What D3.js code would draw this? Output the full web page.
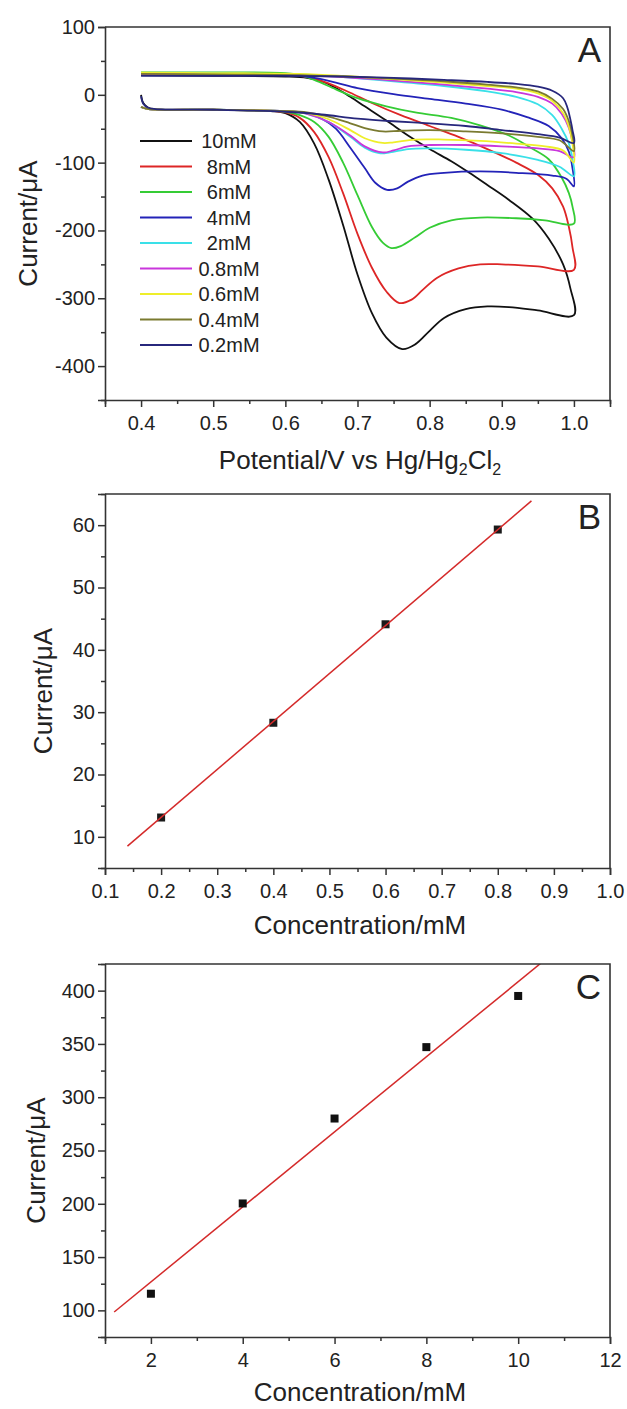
<!DOCTYPE html>
<html><head><meta charset="utf-8">
<script src="https://cdn.jsdelivr.net/npm/d3@7/dist/d3.min.js"></script>
<style>
body{margin:0;background:#fff}
text{font-family:"Liberation Sans",Arial,sans-serif;fill:#222}
</style>
</head><body>
<svg id="chart" width="627" height="1409"></svg>
<script>
// ---------------- DATA ----------------
const concLabels = ["10mM","8mM","6mM","4mM","2mM","0.8mM","0.6mM","0.4mM","0.2mM"];
const curveColors = ["#111111","#dd2626","#35cc35","#2323b8","#3ae0e8","#c936dc","#eeee2a","#7a7a30","#27277c"];

// Panel A: cyclic voltammograms, forward (lower) branch 0.4 -> 1.0 V, reverse (upper) branch 1.0 -> 0.4 V
const fwd10mM = [[0.40,0],[0.403,-12],[0.41,-19],[0.42,-21],[0.5,-22],[0.58,-24],[0.60,-27],[0.62,-40],[0.64,-72],[0.66,-125],[0.68,-192],[0.70,-265],[0.72,-322],[0.74,-358],[0.762,-375],[0.78,-368],[0.80,-348],[0.82,-329],[0.85,-316],[0.88,-312],[0.91,-313],[0.95,-318],[1.0,-325]];
const rev10mM = [[1.0,-325],[0.995,-285],[0.985,-250],[0.965,-212],[0.943,-183],[0.91,-155],[0.88,-133],[0.855,-115],[0.83,-98],[0.80,-80],[0.77,-60],[0.74,-38],[0.71,-17],[0.69,-3],[0.67,10],[0.65,20],[0.63,25],[0.60,27],[0.5,28],[0.4,29]];
const fwd8mM = [[0.40,-18],[0.41,-21],[0.5,-22],[0.6,-26],[0.62,-34],[0.64,-55],[0.66,-92],[0.68,-145],[0.70,-205],[0.72,-255],[0.74,-290],[0.758,-307],[0.775,-302],[0.79,-288],[0.81,-270],[0.84,-256],[0.87,-250],[0.90,-250],[0.95,-253],[1.0,-258]];
const rev8mM = [[1.0,-258],[0.998,-225],[0.993,-195],[0.985,-165],[0.97,-138],[0.95,-118],[0.92,-100],[0.88,-80],[0.84,-62],[0.80,-46],[0.76,-30],[0.72,-12],[0.69,3],[0.66,17],[0.63,26],[0.60,29],[0.5,30],[0.4,30]];
const fwd6mM = [[0.40,-18],[0.41,-21],[0.5,-22],[0.6,-25],[0.62,-30],[0.64,-40],[0.66,-62],[0.68,-100],[0.70,-148],[0.72,-195],[0.735,-218],[0.747,-226],[0.76,-223],[0.78,-210],[0.80,-196],[0.83,-185],[0.87,-181],[0.92,-182],[0.96,-185],[1.0,-190]];
const rev6mM = [[1.0,-190],[0.998,-165],[0.993,-145],[0.983,-122],[0.965,-95],[0.94,-78],[0.91,-60],[0.87,-45],[0.83,-34],[0.78,-26],[0.74,-17],[0.70,-5],[0.67,8],[0.64,22],[0.62,29],[0.6,32],[0.5,33],[0.4,33]];
const fwd4mM = [[0.40,-18],[0.41,-21],[0.5,-22],[0.6,-24],[0.63,-27],[0.65,-35],[0.67,-50],[0.69,-78],[0.71,-108],[0.725,-130],[0.741,-140],[0.755,-138],[0.77,-128],[0.79,-119],[0.82,-115],[0.87,-113],[0.92,-115],[0.97,-119],[0.99,-124],[1.0,-135]];
const rev4mM = [[1.0,-135],[0.998,-108],[0.993,-84],[0.983,-64],[0.965,-46],[0.935,-33],[0.90,-22],[0.85,-13],[0.80,-6],[0.75,1],[0.70,10],[0.67,18],[0.64,25],[0.6,29],[0.5,30],[0.4,30]];
const fwd2mM = [[0.40,-18],[0.41,-21],[0.5,-22],[0.6,-24],[0.63,-28],[0.66,-40],[0.69,-62],[0.71,-78],[0.73,-86],[0.745,-85],[0.77,-80],[0.80,-79],[0.85,-81],[0.90,-86],[0.95,-96],[0.98,-106],[1.0,-120]];
const rev2mM = [[1.0,-120],[0.998,-95],[0.993,-72],[0.983,-50],[0.97,-30],[0.95,-14],[0.92,-3],[0.88,5],[0.82,13],[0.75,20],[0.68,26],[0.62,30],[0.5,32],[0.4,33]];
const fwd08mM = [[0.40,-18],[0.41,-21],[0.5,-22],[0.6,-24],[0.63,-28],[0.66,-40],[0.69,-60],[0.71,-76],[0.735,-85],[0.75,-82],[0.77,-76],[0.80,-74],[0.85,-74],[0.90,-76],[0.95,-79],[0.98,-83],[1.0,-92]];
const rev08mM = [[1.0,-92],[0.998,-70],[0.993,-49],[0.983,-28],[0.97,-13],[0.95,-3],[0.92,4],[0.88,9],[0.82,15],[0.75,21],[0.68,26],[0.62,29],[0.5,30],[0.4,31]];
const fwd06mM = [[0.40,-18],[0.41,-21],[0.5,-22],[0.6,-24],[0.63,-27],[0.66,-36],[0.69,-52],[0.71,-64],[0.735,-71],[0.75,-70],[0.78,-66],[0.82,-66],[0.87,-68],[0.92,-72],[0.96,-76],[0.985,-82],[1.0,-100]];
const rev06mM = [[1.0,-100],[0.998,-72],[0.993,-47],[0.985,-27],[0.97,-9],[0.95,2],[0.92,9],[0.88,13],[0.82,18],[0.75,23],[0.68,28],[0.62,31],[0.5,32],[0.4,33]];
const fwd04mM = [[0.40,-18],[0.41,-21],[0.5,-22],[0.6,-24],[0.63,-26],[0.66,-32],[0.69,-42],[0.71,-49],[0.735,-54],[0.76,-53],[0.80,-52],[0.85,-54],[0.90,-57],[0.95,-62],[0.98,-67],[1.0,-83]];
const rev04mM = [[1.0,-83],[0.998,-60],[0.993,-39],[0.985,-21],[0.97,-6],[0.95,5],[0.92,11],[0.88,15],[0.82,20],[0.75,24],[0.68,27],[0.62,29],[0.5,30],[0.4,31]];
const fwd02mM = [[0.40,-2],[0.403,-13],[0.41,-19],[0.42,-21],[0.5,-22],[0.6,-25],[0.65,-29],[0.70,-35],[0.75,-39],[0.80,-42],[0.85,-46],[0.90,-52],[0.95,-58],[0.98,-63],[1.0,-71]];
const rev02mM = [[1.0,-71],[0.998,-52],[0.995,-36],[0.991,-19],[0.985,-5],[0.97,6],[0.95,12],[0.92,16],[0.88,19],[0.82,22],[0.75,25],[0.68,27],[0.6,28],[0.5,28],[0.4,28]];

const forwardScans = [fwd10mM,fwd8mM,fwd6mM,fwd4mM,fwd2mM,fwd08mM,fwd06mM,fwd04mM,fwd02mM];
const reverseScans = [rev10mM,rev8mM,rev6mM,rev4mM,rev2mM,rev08mM,rev06mM,rev04mM,rev02mM];

// Panel B
const concB = [0.2,0.4,0.6,0.8];
const currB = [13.1,28.3,44.1,59.3];
const fitB = [[0.14,8.5],[0.86,63.9]];
// Panel C
const concC = [2,4,6,8,10];
const currC = [115.6,200.3,280,347,395];
const fitC = [[1.2,98.5],[10.6,429.5]];

// Ticks
const xTicksA = [0.4,0.5,0.6,0.7,0.8,0.9,1.0];
const xMinorA = [0.35,0.45,0.55,0.65,0.75,0.85,0.95,1.05];
const yTicksA = [100,0,-100,-200,-300,-400];
const yMinorA = [50,-50,-150,-250,-350,-450];
const xTicksB = [0.1,0.2,0.3,0.4,0.5,0.6,0.7,0.8,0.9,1.0];
const xMinorB = [0.15,0.25,0.35,0.45,0.55,0.65,0.75,0.85,0.95];
const yTicksB = [10,20,30,40,50,60];
const yMinorB = [5,15,25,35,45,55,65];
const xTicksC = [2,4,6,8,10,12];
const xMinorC = [1,3,5,7,9,11];
const yTicksC = [100,150,200,250,300,350,400];
const yMinorC = [75,125,175,225,275,325,375,425];

// ---------------- DRAW ----------------
const svg = d3.select("#chart");
const L = 105, R = 610;
const AX = "#333";

function panel(cfg){
  const x = d3.scaleLinear().domain(cfg.xDom).range([L,R]);
  const y = d3.scaleLinear().domain(cfg.yDom).range([cfg.bottom,cfg.top]);
  const g = svg.append("g");
  const clipId = "clip"+cfg.letter;
  g.append("clipPath").attr("id",clipId).append("rect")
    .attr("x",L).attr("y",cfg.top).attr("width",R-L).attr("height",cfg.bottom-cfg.top);
  const plot = g.append("g").attr("clip-path",`url(#${clipId})`);

  const gx = g.append("g").attr("transform",`translate(0,${cfg.bottom})`)
    .call(d3.axisBottom(x).tickValues(cfg.xMaj).tickSize(7).tickFormat(cfg.xFmt));
  gx.selectAll("text").attr("dy",null).attr("y",30).style("font-size","20px");
  const gxm = g.append("g").attr("transform",`translate(0,${cfg.bottom})`)
    .call(d3.axisBottom(x).tickValues(cfg.xMin).tickSize(4).tickFormat(""));
  gxm.select(".domain").remove();
  const gy = g.append("g").attr("transform",`translate(${L},0)`)
    .call(d3.axisLeft(y).tickValues(cfg.yMaj).tickSize(7).tickPadding(3).tickFormat(cfg.yFmt));
  gy.selectAll("text").style("font-size","20px");
  const gym = g.append("g").attr("transform",`translate(${L},0)`)
    .call(d3.axisLeft(y).tickValues(cfg.yMin).tickSize(4).tickFormat(""));
  gym.select(".domain").remove();
  g.selectAll(".domain").attr("stroke",AX).attr("stroke-width",1.6);
  g.selectAll(".tick line").attr("stroke",AX).attr("stroke-width",1.5);
  g.selectAll(".tick text").attr("fill","#222").style("font-family",'"Liberation Sans",Arial,sans-serif');
  g.append("path").attr("d",`M${L},${cfg.top}H${R}V${cfg.bottom}`)
    .attr("fill","none").attr("stroke",AX).attr("stroke-width",1.6);

  g.append("text").attr("transform",`translate(${cfg.yTitleX},${(cfg.top+cfg.bottom)/2+10}) rotate(-90)`)
    .attr("text-anchor","middle").style("font-size","26px").text("Current/\u03bcA");
  g.append("text").attr("x",601).attr("y",cfg.top+35).attr("text-anchor","end")
    .style("font-size","35px").text(cfg.letter);
  return {x,y,g,plot};
}

// ----- Panel A -----
const A = panel({letter:"A",top:27,bottom:400,xDom:[0.35,1.05],yDom:[-450,100],
  xMaj:xTicksA,xMin:xMinorA,yMaj:yTicksA,yMin:yMinorA,
  xFmt:d3.format(".1f"),yFmt:d=>String(d),yTitleX:37});
const lineA = d3.line().x(d=>A.x(d[0])).y(d=>A.y(d[1])).curve(d3.curveCatmullRom.alpha(0.5));
forwardScans.forEach((f,i)=>{
  const pts = f.concat(reverseScans[i].slice(1));
  A.plot.append("path").attr("d",lineA(pts)).attr("fill","none")
    .attr("stroke",curveColors[i]).attr("stroke-width",1.8).attr("stroke-linejoin","round");
});
const legA = A.g.append("g");
concLabels.forEach((lab,i)=>{
  const yy = 141 + i*25.5;
  legA.append("line").attr("x1",140).attr("x2",192).attr("y1",yy).attr("y2",yy)
    .attr("stroke",curveColors[i]).attr("stroke-width",2);
  legA.append("text").attr("x",229).attr("y",yy+7).attr("text-anchor","middle")
    .style("font-size","20px").text(lab);
});
const tA = A.g.append("text").attr("x",360).attr("y",469).attr("text-anchor","middle").style("font-size","26px");
tA.append("tspan").text("Potential/V vs Hg/Hg");
tA.append("tspan").attr("dy",6).style("font-size","16px").text("2");
tA.append("tspan").attr("dy",-6).text("Cl");
tA.append("tspan").attr("dy",6).style("font-size","16px").text("2");

// ----- Panel B -----
const B = panel({letter:"B",top:494,bottom:868,xDom:[0.1,1.0],yDom:[5,65],
  xMaj:xTicksB,xMin:xMinorB,yMaj:yTicksB,yMin:yMinorB,
  xFmt:d3.format(".1f"),yFmt:d=>String(d),yTitleX:52});
B.plot.selectAll("rect.pt").data(concB).enter().append("rect")
  .attr("x",(d)=>B.x(d)-4).attr("y",(d,i)=>B.y(currB[i])-4).attr("width",8).attr("height",8)
  .attr("fill","#1a1a1a");
B.plot.append("path").attr("d",d3.line().x(d=>B.x(d[0])).y(d=>B.y(d[1]))(fitB))
  .attr("stroke","#d42a2a").attr("stroke-width",1.5).attr("fill","none");
B.g.append("text").attr("x",360).attr("y",934).attr("text-anchor","middle").style("font-size","26px").text("Concentration/mM");

// ----- Panel C -----
const C = panel({letter:"C",top:964,bottom:1337,xDom:[1,12],yDom:[75,425],
  xMaj:xTicksC,xMin:xMinorC,yMaj:yTicksC,yMin:yMinorC,
  xFmt:d=>String(d),yFmt:d=>String(d),yTitleX:45});
C.plot.append("path").attr("d",d3.line().x(d=>C.x(d[0])).y(d=>C.y(d[1]))(fitC))
  .attr("stroke","#d42a2a").attr("stroke-width",1.5).attr("fill","none");
C.plot.selectAll("rect.pt").data(concC).enter().append("rect")
  .attr("x",(d)=>C.x(d)-4).attr("y",(d,i)=>C.y(currC[i])-4).attr("width",8).attr("height",8)
  .attr("fill","#111");
C.g.append("text").attr("x",360).attr("y",1401).attr("text-anchor","middle").style("font-size","26px").text("Concentration/mM");
</script>
</body></html>
